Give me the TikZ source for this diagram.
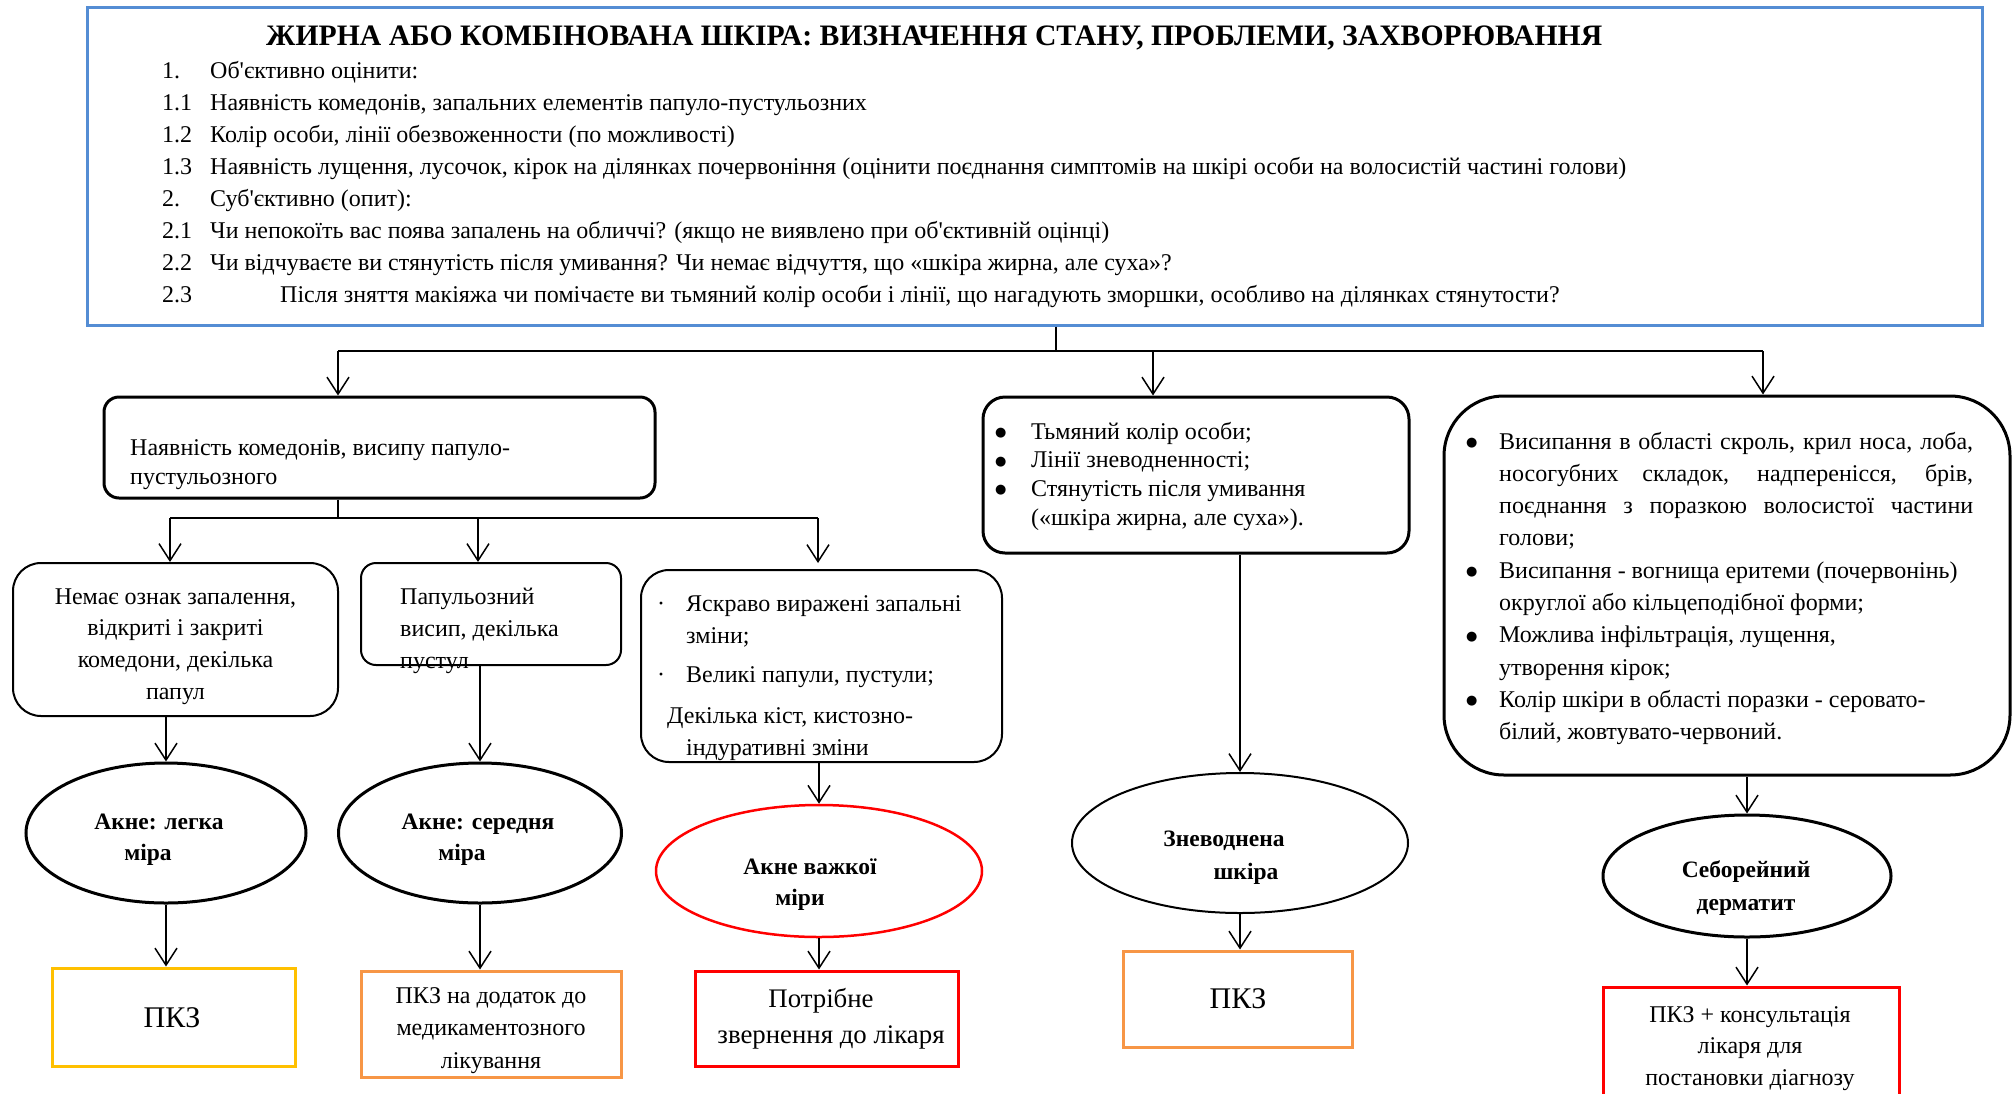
\documentclass[tikz,border=0pt]{standalone}
\usepackage{fontspec}
\setmainfont{Liberation Serif}
\newfontfamily\symf{DejaVu Sans}
\usetikzlibrary{arrows.meta,shapes.geometric}

\definecolor{hdrblue}{RGB}{84,141,212}
\definecolor{gold}{RGB}{255,192,0}
\definecolor{orng}{RGB}{247,150,70}
\definecolor{alarm}{RGB}{255,0,0}

% text helpers
\newcommand\bodyf{\fontsize{24}{32}\selectfont}
\newcommand\ovalf{\fontsize{23.5}{32}\selectfont\bfseries}
\newcommand\txtblock[3]{\parbox[t]{#1}{\bodyf\setlength\baselineskip{#2}#3}}
\newcommand\numcol[1]{\makebox[48pt][l]{#1}}
\newcommand\bigdot{\raisebox{2.5pt}{\symf\fontsize{13}{13}\selectfont ●}}
\newcommand\ditem[1]{\par\noindent\hangindent=33pt\hangafter=1\makebox[33pt][l]{\bigdot}#1\par}

\tikzset{
  rbox/.style={draw=black, line width=3pt, rounded corners=#1, inner sep=0pt},
  tbox/.style={draw=black, line width=2pt, rounded corners=#1, inner sep=0pt},
  oval/.style={draw=black, ellipse, line width=3pt, inner sep=0pt},
  result/.style={draw=#1, line width=3pt, inner sep=0pt},
  wire/.style={line width=2pt},
  arr/.style={line width=1.5pt, -{Straight Barb[length=17pt,width=22pt]}},
  lbl/.style={inner sep=0pt, anchor=base west},
  clbl/.style={inner sep=0pt, anchor=base},
}

\begin{document}
\begin{tikzpicture}[x=1pt,y=-1pt]
\useasboundingbox (0,0) rectangle (2016,1093);
\fill[white] (0,0) rectangle (2016,1093);
\clip (0,0) rectangle (2016,1093);

% ---------- header block ----------
\node[draw=hdrblue, line width=3pt, minimum width=1895, minimum height=318, inner sep=0pt] (main) at (1034.5,166) {};
\node[lbl] (title) at (266,45) {\fontsize{29.7}{32}\selectfont\bfseries ЖИРНА АБО КОМБІНОВАНА ШКІРА: ВИЗНАЧЕННЯ СТАНУ, ПРОБЛЕМИ, ЗАХВОРЮВАННЯ};
\node[lbl] (crit) at (162,78) {\txtblock{1800pt}{32.1pt}{%
\numcol{1.}Об\textquotesingle єктивно оцінити:\\
\numcol{1.1}Наявність комедонів, запальних елементів папуло-пустульозних\\
\numcol{1.2}Колір особи, лінії обезвоженности (по можливості)\\
\numcol{1.3}Наявність лущення, лусочок, кірок на ділянках почервоніння (оцінити поєднання симптомів на шкірі особи на волосистій частині голови)\\
\numcol{2.}Суб\textquotesingle єктивно (опит):\\
\numcol{2.1}Чи непокоїть вас поява запалень на обличчі? (якщо не виявлено при об\textquotesingle єктивній оцінці)\\
\numcol{2.2}Чи відчуваєте ви стянутість після умивання? Чи немає відчуття, що «шкіра жирна, але суха»?\\
\numcol{2.3}\hspace*{70pt}Після зняття макіяжа чи помічаєте ви тьмяний колір особи і лінії, що нагадують зморшки, особливо на ділянках стянутости?}};

% ---------- second level ----------
\node[rbox=15, minimum width=551, minimum height=101] (A) at (379.5,447.5) {};
\node[rbox=22, minimum width=426, minimum height=156] (C) at (1196,475) {};
\node[rbox=60, minimum width=566, minimum height=379] (D) at (1727,585.5) {};

\node[lbl] (Atxt) at (130,455) {\txtblock{540pt}{29pt}{%
Наявність комедонів, висипу папуло-\\пустульозного}};
\node[lbl] (Ctxt) at (995,439) {\txtblock{420pt}{28.7pt}{%
\makebox[36pt][l]{\bigdot}Тьмяний колір особи;\\
\makebox[36pt][l]{\bigdot}Лінії зневодненності;\\
\makebox[36pt][l]{\bigdot}Стянутість після умивання\\
\hspace*{36pt}(«шкіра жирна, але суха»).}};
\node[lbl] (Dtxt) at (1466,449) {\txtblock{507pt}{32.3pt}{%
\ditem{Висипання в області скроль, крил носа, лоба,\linebreak носогубних складок, надперенісся, брів,\linebreak поєднання з поразкою волосистої частини\linebreak голови;}%
\ditem{Висипання - вогнища еритеми (почервонінь)\newline округлої або кільцеподібної форми;}%
\ditem{Можлива інфільтрація, лущення,\newline утворення кірок;}%
\ditem{Колір шкіри в області поразки - серовато-\newline білий, жовтувато-червоний.}}};

% ---------- third level (acne) ----------
\node[tbox=28, minimum width=325, minimum height=153] (B1) at (175.5,639.5) {};
\node[tbox=15, minimum width=260, minimum height=102] (B2) at (491,614) {};
\node[tbox=28, minimum width=361, minimum height=192] (B3) at (821.5,666) {};

\node[clbl] (B1txt) at (175.5,604) {\txtblock{320pt}{31.7pt}{\centering
Немає ознак запалення,\\відкриті і закриті\\комедони, декілька\\папул}};
\node[lbl] (B2txt) at (400,604) {\txtblock{220pt}{32pt}{%
Папульозний\\висип, декілька\\пустул}};
\node[lbl] (B3txt) at (657,611) {\txtblock{345pt}{32pt}{%
\makebox[29pt][l]{·}Яскраво виражені запальні\\
\hspace*{29pt}зміни;\\[7pt]
\makebox[29pt][l]{·}Великі папули, пустули;\\[9pt]
\hspace*{10pt}Декілька кіст, кистозно-\\
\hspace*{29pt}індуративні зміни}};

% ---------- diagnoses ----------
\node[oval, minimum width=280, minimum height=140] (E1) at (166,833) {};
\node[oval, minimum width=283, minimum height=140] (E2) at (480,833) {};
\node[oval, draw=alarm, line width=2.5pt, minimum width=326, minimum height=132] (E3) at (819,871) {};
\node[oval, line width=2pt, minimum width=336, minimum height=140] (E4) at (1240,843) {};
\node[oval, minimum width=288, minimum height=122] (E5) at (1747,876) {};

\node[clbl] (E1txt) at (159,829) {\parbox[t]{260pt}{\ovalf\setlength\baselineskip{31pt}\centering Акне: легка\\\hspace*{-22pt}міра}};
\node[clbl] (E2txt) at (478,829) {\parbox[t]{260pt}{\ovalf\setlength\baselineskip{31pt}\centering Акне: середня\\\hspace*{-32pt}міра}};
\node[clbl] (E3txt) at (810,874) {\parbox[t]{300pt}{\ovalf\setlength\baselineskip{31pt}\centering Акне важкої\\\hspace*{-20pt}міри}};
\node[clbl] (E4txt) at (1224,846) {\parbox[t]{300pt}{\ovalf\setlength\baselineskip{33pt}\centering Зневоднена\\\hspace*{44pt}шкіра}};
\node[clbl] (E5txt) at (1746,877) {\parbox[t]{280pt}{\ovalf\setlength\baselineskip{33pt}\centering Себорейний\\дерматит}};

% ---------- recommendations ----------
\node[result=gold, minimum width=243, minimum height=98] (F1) at (173.5,1017) {};
\node[result=orng, minimum width=260, minimum height=106] (F2) at (491,1024) {};
\node[result=alarm, minimum width=263, minimum height=95] (F3) at (826.5,1018.5) {};
\node[result=orng, minimum width=229, minimum height=96] (F4) at (1237.5,999) {};
\node[result=alarm, minimum width=296, minimum height=130] (F5) at (1751,1052) {};

\node[clbl] (F1txt) at (172,1027) {\fontsize{30}{32}\selectfont ПКЗ};
\node[clbl] (F2txt) at (491,1003) {\txtblock{250pt}{32.5pt}{\centering ПКЗ на додаток до\\медикаментозного\\лікування}};
\node[clbl] (F3txt) at (831,1007) {\parbox[t]{255pt}{\fontsize{26.8}{36}\selectfont\centering\hspace*{-20pt}Потрібне\\звернення до лікаря}};
\node[clbl] (F4txt) at (1238,1008) {\fontsize{30}{32}\selectfont ПКЗ};
\node[clbl] (F5txt) at (1750,1022) {\txtblock{290pt}{31.5pt}{\centering ПКЗ + консультація\\лікаря для\\постановки діагнозу}};

% ---------- connectors: header to second level ----------
\coordinate (hub) at (1056,351);
\coordinate (hubL) at (338,351);
\coordinate (hubM) at (1153,351);
\coordinate (hubR) at (1763,351);
\draw[wire] (main.south -| hub) -- (hub);
\draw[wire] (hubL) -- (hubR);
\draw[arr] (hubL) -- (A.north -| hubL);
\draw[arr] (hubM) -- (C.north -| hubM);
\draw[arr] (hubR) -- (D.north -| hubR);

% ---------- connectors: acne branch ----------
\coordinate (split) at (338,518);
\coordinate (splitL) at (170,518);
\coordinate (splitM) at (478,518);
\coordinate (splitR) at (818,518);
\coordinate (splitRend) at (818,563);
\draw[wire] (A.south -| split) -- (split);
\draw[wire] (splitL) -- (splitR);
\draw[arr] (splitL) -- (B1.north -| splitL);
\draw[arr] (splitM) -- (B2.north -| splitM);
\draw[arr] (splitR) -- (splitRend);

% ---------- connectors: to diagnoses ----------
\draw[arr] (B1.south -| E1.north) -- (E1.north);
\draw[arr] (B2.south -| E2.north) -- (E2.north);
\draw[arr] (B3.south -| E3.north) -- (E3.north);
\draw[arr] (C.south -| E4.north) -- (E4.north);
\draw[arr] (D.south -| E5.north) -- (E5.north);

% ---------- connectors: to recommendations ----------
\draw[arr] (E1.south) -- (F1.north -| E1.south);
\draw[arr] (E2.south) -- (F2.north -| E2.south);
\draw[arr] (E3.south) -- (F3.north -| E3.south);
\draw[arr] (E4.south) -- (F4.north -| E4.south);
\draw[arr] (E5.south) -- (F5.north -| E5.south);
\end{tikzpicture}
\end{document}
